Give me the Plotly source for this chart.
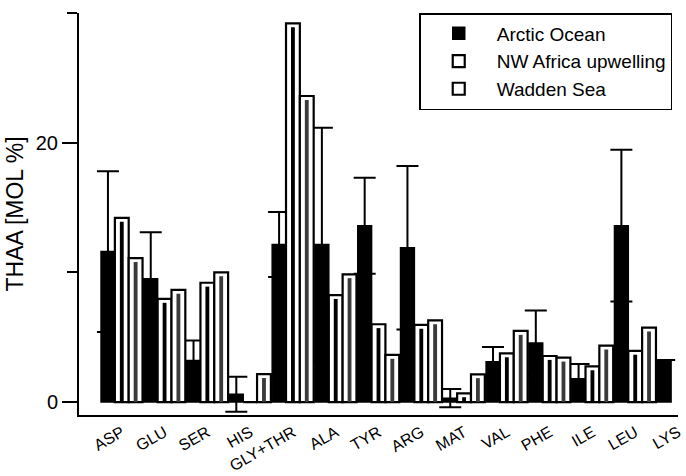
import plotly.graph_objects as go

categories = ["ASP", "GLU", "SER", "HIS", "GLY+THR", "ALA", "TYR", "ARG",
              "MAT", "VAL", "PHE", "ILE", "LEU", "LYS"]
arctic = [11.6, 9.5, 3.2, 0.6, 12.15, 12.15, 13.6, 11.9, 0.3, 3.1, 4.55, 1.8, 13.6, 3.25]
arctic_err = [6.2, 3.6, 1.55, 1.35, 2.5, 9.0, 3.7, 6.3, 0.7, 1.15, 2.5, 1.13, 5.85, None]
nw_africa = [14.2, 7.95, 9.2, 0.0, 29.2, 8.25, 6.0, 5.95, 0.67, 3.75, 3.55, 2.75, 3.95, None]
wadden = [11.1, 8.65, 10.0, 2.15, 23.6, 9.85, 3.63, 6.3, 2.14, 5.48, 3.42, 4.35, 5.74, None]

FONT = "Liberation Sans, Arial, sans-serif"
BARGAP = 0.03
W = (1 - BARGAP) / 3          # width of one bar in category units
INNER = 0.09                  # width of inner strip
INSET = 0.3                   # top inset of inner strip (data units)

fig = go.Figure()
fig.add_trace(go.Bar(
    name="Arctic Ocean", x=categories, y=arctic,
    marker=dict(color="black", line=dict(color="black", width=1.5)),
    error_y=dict(type="data", array=arctic_err, symmetric=True,
                 color="black", thickness=2, width=11),
))
fig.add_trace(go.Bar(
    name="NW Africa upwelling", x=categories, y=nw_africa,
    marker=dict(color="white", line=dict(color="black", width=2.2)),
))
fig.add_trace(go.Bar(
    name="Wadden Sea", x=categories, y=wadden,
    marker=dict(color="white", line=dict(color="black", width=2.2)),
))

def inset(vals):
    return [None if v is None else max(v - INSET, 0) for v in vals]

fig.add_trace(go.Bar(
    x=categories, y=inset(nw_africa), width=INNER, offset=-INNER / 2,
    marker=dict(color="black", line=dict(width=0)), showlegend=False,
))
fig.add_trace(go.Bar(
    x=categories, y=inset(wadden), width=INNER, offset=W - INNER / 2,
    marker=dict(color="#3a3a3a", line=dict(width=0)), showlegend=False,
))

fig.update_layout(
    width=686, height=476,
    margin=dict(l=79, r=8, t=13, b=61, autoexpand=False),
    barmode="group", bargap=BARGAP, bargroupgap=0,
    plot_bgcolor="white", paper_bgcolor="white",
    font=dict(family=FONT, color="black", size=18),
    legend=dict(x=0.568, y=1.0, xanchor="left", yanchor="top",
                bgcolor="white", bordercolor="black", borderwidth=1.5,
                font=dict(size=19, family=FONT), itemwidth=66,
                tracegroupgap=4),
    showlegend=True,
)
fig.update_xaxes(
    type="category", range=[-1, 13], automargin=False,
    showline=True, linecolor="black", linewidth=2,
    showgrid=False, ticks="", tickangle=-30,
    tickfont=dict(size=16, family=FONT), ticklabelshift=0, ticklabelstandoff=0,
)
fig.update_yaxes(
    range=[-1, 30], tickvals=[0, 20], ticktext=["0", "20"], automargin=False,
    showline=True, linecolor="black", linewidth=2,
    showgrid=False, zeroline=False,
    ticks="outside", ticklen=15, tickwidth=1.5, tickcolor="black",
    minor=dict(tickvals=[10, 30], ticks="outside", ticklen=10, tickwidth=1.5,
               tickcolor="black"),
    tickfont=dict(size=20, family=FONT),
    title=dict(text="THAA [MOL %]", font=dict(size=23, family=FONT), standoff=6),
)

fig.write_html("out.html")
